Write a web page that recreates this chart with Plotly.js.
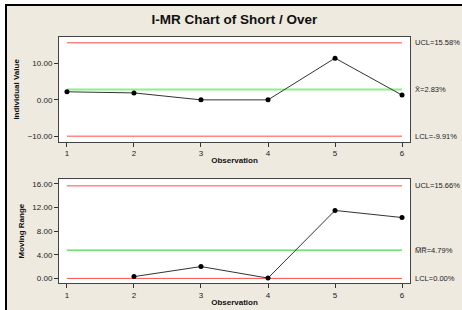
<!DOCTYPE html>
<html>
<head>
<meta charset="utf-8">
<script src="https://cdn.plot.ly/plotly-3.0.1.min.js"></script>
<style>
html,body{margin:0;padding:0;background:#ffffff;width:462px;height:310px;overflow:hidden;}
#chart{position:absolute;left:5px;top:4px;width:455px;height:304px;border-top:2px solid #000;border-left:2px solid #000;background:#EEEAE0;}
</style>
</head>
<body>
<div id="chart"></div>
<script>
// Data (percent units)
const observations = [1, 2, 3, 4, 5, 6];
const individualValues = [2.2, 1.9, 0.0, 0.0, 11.4, 1.3];
const movingRanges = [null, 0.3, 2.0, 0.05, 11.5, 10.3];
const iLimits = {ucl: 15.58, center: 2.83, lcl: -9.91};
const mrLimits = {ucl: 15.66, center: 4.79, lcl: 0.00};
const iTicks = [-10, 0, 10];
const mrTicks = [0, 4, 8, 12, 16];

const xEnds = [observations[0], observations[observations.length - 1]];
function hline(v, color, width, xa, ya) {
  return {x: xEnds, y: [v, v], mode: 'lines', line: {color: color, width: width},
          xaxis: xa, yaxis: ya, hoverinfo: 'skip', showlegend: false};
}
const red = '#FF4A4A';
const traces = [
  hline(iLimits.ucl, red, 1, 'x', 'y'),
  hline(iLimits.lcl, red, 1, 'x', 'y'),
  hline(iLimits.center, '#8CF08C', 2, 'x', 'y'),
  {x: observations, y: individualValues, mode: 'lines+markers', line: {color: '#333', width: 1},
   marker: {color: '#000', size: 5}, xaxis: 'x', yaxis: 'y', showlegend: false},
  hline(mrLimits.ucl, red, 1, 'x2', 'y2'),
  hline(mrLimits.lcl, red, 1, 'x2', 'y2'),
  hline(mrLimits.center, '#44DD44', 1.3, 'x2', 'y2'),
  {x: observations, y: movingRanges, mode: 'lines+markers', line: {color: '#333', width: 1},
   marker: {color: '#000', size: 5}, xaxis: 'x2', yaxis: 'y2', showlegend: false, connectgaps: false}
];

const tickFont = {family: 'Liberation Sans, Arial, sans-serif', size: 8, color: '#222'};
const titleFont = {family: 'Liberation Sans, Arial, sans-serif', size: 8, color: '#111', weight: 'bold'};
function xAxis(domainAnchor) {
  return {range: [0.881, 6.119], tickvals: observations, ticks: 'outside', ticklen: 4, tickcolor: '#333',
    showgrid: false, zeroline: false, showline: true, linecolor: '#444', linewidth: 1, mirror: true,
    tickfont: tickFont, anchor: domainAnchor,
    title: {text: 'Observation', font: titleFont, standoff: 0}};
}
function yAxis(range, ticks, title, dom, anchor) {
  return {range: range, domain: dom, tickvals: ticks, tickformat: '.2f', ticksuffix: '%', ticks: 'outside',
    ticklen: 4, tickcolor: '#333', showgrid: false, zeroline: false, showline: true, linecolor: '#444',
    linewidth: 1, mirror: true, tickfont: tickFont, anchor: anchor,
    title: {text: title, font: titleFont, standoff: 6}};
}
const annFont = {family: 'Liberation Sans, Arial, sans-serif', size: 7.5, color: '#222'};
function ann(text, yv, ya) {
  return {text: text, xref: 'paper', x: 1, xanchor: 'left', xshift: 3, yref: ya, y: yv,
          yanchor: 'middle', showarrow: false, font: annFont};
}
const layout = {
  width: 455, height: 304,
  margin: {l: 52, r: 52, t: 31, b: 27},
  paper_bgcolor: '#EEEAE0', plot_bgcolor: '#FFFFFF',
  title: {text: 'I-MR Chart of Short / Over', font: {family: 'Liberation Sans, Arial, sans-serif', size: 13.5, color: '#111', weight: 'bold'},
          x: 0.5, xanchor: 'center', y: 0.955, yanchor: 'middle', yref: 'container'},
  xaxis: xAxis('y'),
  yaxis: yAxis([-11.45, 17.17], iTicks, 'Individual Value', [0.574, 1], 'x'),
  xaxis2: xAxis('y2'),
  yaxis2: yAxis([-0.78, 16.79], mrTicks, 'Moving Range', [0, 0.422], 'x2'),
  annotations: [
    ann('UCL=' + iLimits.ucl.toFixed(2) + '%', iLimits.ucl, 'y'),
    ann('X\u0304=' + iLimits.center.toFixed(2) + '%', iLimits.center, 'y'),
    ann('LCL=' + iLimits.lcl.toFixed(2) + '%', iLimits.lcl, 'y'),
    ann('UCL=' + mrLimits.ucl.toFixed(2) + '%', mrLimits.ucl, 'y2'),
    ann('M\u0305R\u0305=' + mrLimits.center.toFixed(2) + '%', mrLimits.center, 'y2'),
    ann('LCL=' + mrLimits.lcl.toFixed(2) + '%', mrLimits.lcl, 'y2')
  ],
  showlegend: false
};
Plotly.newPlot('chart', traces, layout, {displayModeBar: false, staticPlot: true});
</script>
</body>
</html>
